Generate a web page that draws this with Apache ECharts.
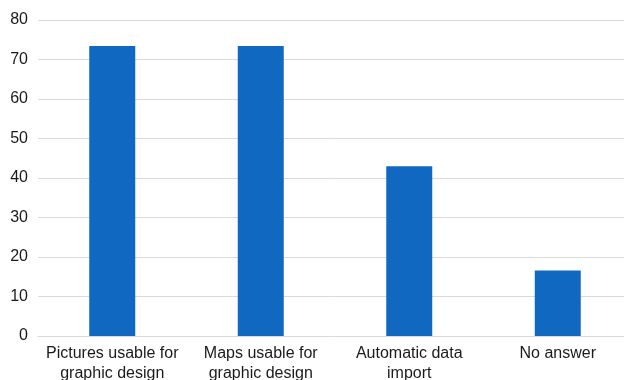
<!DOCTYPE html>
<html>
<head>
<meta charset="utf-8">
<script src="https://cdn.jsdelivr.net/npm/echarts@6/dist/echarts.min.js"></script>
<style>
  html, body { margin: 0; padding: 0; background: #ffffff; }
  #chart { width: 624px; height: 380px; }
</style>
</head>
<body>
<div id="chart"></div>
<script>
// Survey answers and their shares (percent)
const categories = [
  'Pictures usable for\ngraphic design',
  'Maps usable for\ngraphic design',
  'Automatic data\nimport',
  'No answer'
];
const values = [73.4, 73.4, 43.0, 16.6];
const yTicks = { min: 0, max: 80, interval: 10 };

const fontFamily = '"Liberation Sans", Arial, Helvetica, sans-serif';

const chart = echarts.init(document.getElementById('chart'), null, { renderer: 'canvas' });
chart.setOption({
  animation: false,
  backgroundColor: '#ffffff',
  grid: {
    left: 38, top: 20, width: 594, height: 316,
    containLabel: false,
    outerBoundsMode: 'none'
  },
  xAxis: {
    type: 'category',
    data: categories,
    axisLine: { show: true, lineStyle: { color: '#d9d9d9', width: 1 } },
    axisTick: { show: false },
    axisLabel: {
      color: '#1a1a1a',
      fontFamily: fontFamily,
      fontSize: 16,
      lineHeight: 20,
      margin: 8,
      interval: 0
    }
  },
  yAxis: {
    type: 'value',
    min: yTicks.min,
    max: yTicks.max,
    interval: yTicks.interval,
    axisLine: { show: false },
    axisTick: { show: false },
    splitLine: { lineStyle: { color: '#d9d9d9', width: 1 } },
    axisLabel: {
      color: '#1a1a1a',
      fontFamily: fontFamily,
      fontSize: 16,
      margin: 10
    }
  },
  series: [{
    type: 'bar',
    data: values,
    barWidth: 46,
    itemStyle: { color: '#1068c0' }
  }]
});
</script>
</body>
</html>
